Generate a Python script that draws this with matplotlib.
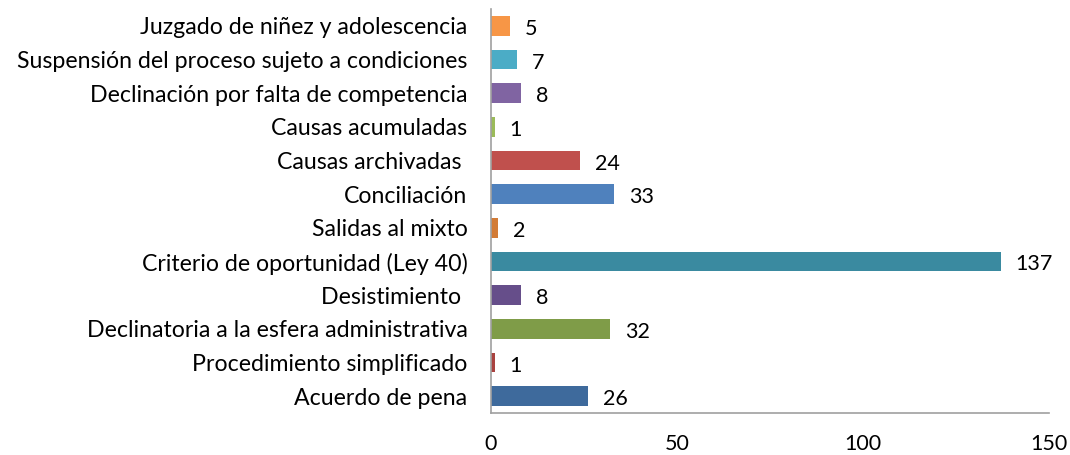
import matplotlib
matplotlib.use("Agg")
import matplotlib.pyplot as plt

categories = [
    "Acuerdo de pena",
    "Procedimiento simplificado",
    "Declinatoria a la esfera administrativa",
    "Desistimiento ",
    "Criterio de oportunidad (Ley 40)",
    "Salidas al mixto",
    "Conciliación",
    "Causas archivadas ",
    "Causas acumuladas",
    "Declinación por falta de competencia",
    "Suspensión del proceso sujeto a condiciones",
    "Juzgado de niñez y adolescencia",
]
values = [26, 1, 32, 8, 137, 2, 33, 24, 1, 8, 7, 5]
colors = ["#3E6A9C", "#A9423F", "#7F9C48", "#664E8A", "#3A8AA0", "#D27B36",
          "#4F81BD", "#C0504D", "#9BBB59", "#8064A2", "#4BACC6", "#F79646"]
xticks = [0, 50, 100, 150]

plt.rcParams['font.family'] = ['Lato', 'DejaVu Sans']

fig = plt.figure(figsize=(10.7, 4.55), dpi=100)
ax = fig.add_axes([491/1070, 1 - 413/455, (1049-491)/1070, (413-9)/455])

y = list(range(len(categories)))
ax.barh(y, values, height=0.59, color=colors)
for yi, v in zip(y, values):
    ax.annotate(str(v), (v, yi), xytext=(15, -3), textcoords="offset pixels",
                ha="left", va="center", fontsize=15.5, color="black")

ax.set_ylim(-0.5, len(categories) - 0.5)
ax.set_xlim(0, 150)
ax.set_yticks(y)
ax.set_yticklabels(categories, fontsize=16.7)
ax.set_xticks(xticks)
ax.set_xticklabels([str(t) for t in xticks], fontsize=15.5)
ax.tick_params(axis='y', length=0, pad=17)
ax.tick_params(axis='x', length=0, pad=15)
for s in ["top", "right"]:
    ax.spines[s].set_visible(False)
for s in ["left", "bottom"]:
    ax.spines[s].set_color("#A0A0A0")
    ax.spines[s].set_linewidth(1.2)

fig.savefig("out.png", dpi=100)
